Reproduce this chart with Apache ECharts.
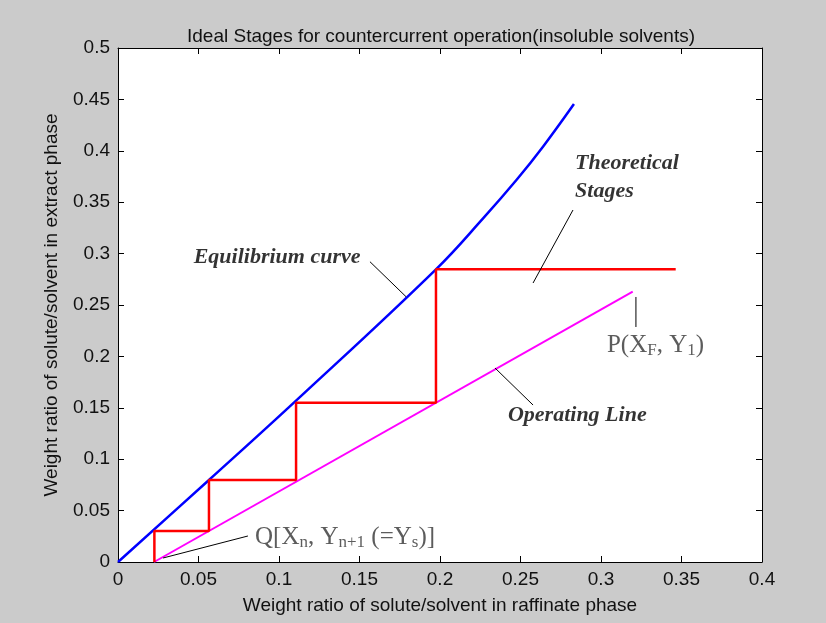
<!DOCTYPE html>
<html>
<head>
<meta charset="utf-8">
<script src="https://cdn.jsdelivr.net/npm/echarts@6/dist/echarts.min.js"></script>
<style>
  html, body { margin: 0; padding: 0; background: #cbcbcb; }
  #main { width: 826px; height: 623px; }
</style>
</head>
<body>
<div id="main"></div>
<script>
// axis ticks
var xTicks = [0, 0.05, 0.1, 0.15, 0.2, 0.25, 0.3, 0.35, 0.4];
var yTicks = [0, 0.05, 0.1, 0.15, 0.2, 0.25, 0.3, 0.35, 0.4, 0.45, 0.5];

// equilibrium curve (x, y)
var eqX = [0, 0.0565, 0.1106, 0.1975, 0.2269, 0.2476, 0.2642, 0.2832];
var eqY = [0, 0.0798, 0.1570, 0.2847, 0.3345, 0.3718, 0.4045, 0.4455];

// operating line
var opX = [0.0224, 0.3197];
var opY = [0, 0.263];

// theoretical stages (staircase)
var stX = [0.3464, 0.1975, 0.1975, 0.1106, 0.1106, 0.0565, 0.0565, 0.0226, 0.0226];
var stY = [0.2847, 0.2847, 0.155, 0.155, 0.0798, 0.0798, 0.0302, 0.0302, 0];

// annotation texts and their anchor points (data coords)
var noteText = ["Equilibrium curve", "Theoretical\nStages", "Operating Line",
  "P(X{sub|F}, Y{sub|1})", "Q[X{sub|n}, Y{sub|n+1} (=Y{sub|s})]"];
var noteX = [0.0988, 0.2839, 0.2422, 0.3037, 0.0851];
var noteY = [0.2967, 0.3745, 0.143, 0.2111, 0.0243];
// leader lines [x1, y1, x2, y2]
var leaders = [
  [0.1565, 0.2921, 0.1789, 0.2581],
  [0.2826, 0.3424, 0.2578, 0.2714],
  [0.2342, 0.1887, 0.2578, 0.1527],
  [0.3217, 0.2578, 0.3217, 0.2286],
  [0.0807, 0.0253, 0.0280, 0.0039]
];

function pairs(xs, ys) {
  return xs.map(function (x, i) { return [x, ys[i]]; });
}

var chart = echarts.init(document.getElementById("main"));

var sansFont = "Liberation Sans, Arial, sans-serif";
var serifFont = "Liberation Serif, Times New Roman, serif";

function tickStyle() {
  return { show: true, inside: true, length: 6, lineStyle: { color: "#000", width: 1 } };
}
function lineAx() {
  return { show: true, onZero: false, lineStyle: { color: "#000", width: 1 } };
}
function tickLabel() {
  return {
    margin: 8, color: "#111", fontSize: 19, fontFamily: sansFont,
    formatter: function (v) { return String(+v.toFixed(2)); }
  };
}

var italicNote = {
  fontFamily: serifFont,
  fontStyle: "italic",
  fontWeight: "bold",
  fontSize: 22,
  color: "#000"
};
var plainNote = {
  fontFamily: serifFont,
  fontSize: 25,
  color: "#333",
  rich: {
    sub: { fontSize: 17, padding: [11, 0, 0, 0], color: "#333", fontFamily: serifFont }
  }
};

var series = [
  {
    type: "line", data: pairs(eqX, eqY), showSymbol: false, smooth: 0.4,
    lineStyle: { color: "#0000ff", width: 2.5 }, z: 3, silent: true
  },
  {
    type: "line", data: pairs(opX, opY), showSymbol: false,
    lineStyle: { color: "#ff00ff", width: 2 }, z: 3, silent: true
  },
  {
    type: "line", data: pairs(stX, stY), showSymbol: false,
    lineStyle: { color: "#ff0000", width: 2.5 }, z: 4, silent: true
  }
];

leaders.forEach(function (l) {
  series.push({
    type: "line", data: [[l[0], l[1]], [l[2], l[3]]], showSymbol: false,
    lineStyle: { color: "#000", width: 1 }, z: 5, silent: true
  });
});

noteText.forEach(function (t, i) {
  var st = i < 3 ? italicNote : plainNote;
  series.push({
    type: "scatter", symbolSize: 0, silent: true, z: 6,
    data: [[noteX[i], noteY[i]]],
    label: Object.assign({
      show: true,
      position: i === 0 ? "inside" : "right",
      distance: 0,
      align: i === 0 ? "center" : "left",
      lineHeight: i === 1 ? 28 : undefined,
      formatter: t
    }, st)
  });
});

var option = {
  backgroundColor: "#cbcbcb",
  animation: false,
  title: {
    text: "Ideal Stages for countercurrent operation(insoluble solvents)",
    left: 436, textAlign: "center", top: 22,
    textStyle: { fontSize: 19, fontWeight: "normal", color: "#111", fontFamily: sansFont }
  },
  grid: { left: 118, right: 64, top: 48, bottom: 61, show: true, backgroundColor: "#fff", borderWidth: 0 },
  xAxis: [
    {
      type: "value", min: xTicks[0], max: xTicks[xTicks.length - 1], interval: 0.05,
      axisLine: lineAx(), axisTick: tickStyle(), splitLine: { show: false },
      axisLabel: tickLabel(),
      name: "Weight ratio of solute/solvent in raffinate phase",
      nameLocation: "middle", nameGap: 34,
      nameTextStyle: { fontSize: 19, color: "#111", fontFamily: sansFont }
    },
    {
      type: "value", position: "top", min: xTicks[0], max: xTicks[xTicks.length - 1], interval: 0.05,
      axisLine: lineAx(), axisTick: tickStyle(), axisLabel: { show: false }, splitLine: { show: false }
    }
  ],
  yAxis: [
    {
      type: "value", min: yTicks[0], max: yTicks[yTicks.length - 1], interval: 0.05,
      axisLine: lineAx(), axisTick: tickStyle(), splitLine: { show: false },
      axisLabel: tickLabel(),
      name: "Weight ratio of solute/solvent in extract phase",
      nameLocation: "middle", nameGap: 57,
      nameTextStyle: { fontSize: 19, color: "#111", fontFamily: sansFont }
    },
    {
      type: "value", position: "right", min: yTicks[0], max: yTicks[yTicks.length - 1], interval: 0.05,
      axisLine: lineAx(), axisTick: tickStyle(), axisLabel: { show: false }, splitLine: { show: false }
    }
  ],
  series: series
};

chart.setOption(option);
</script>
</body>
</html>
